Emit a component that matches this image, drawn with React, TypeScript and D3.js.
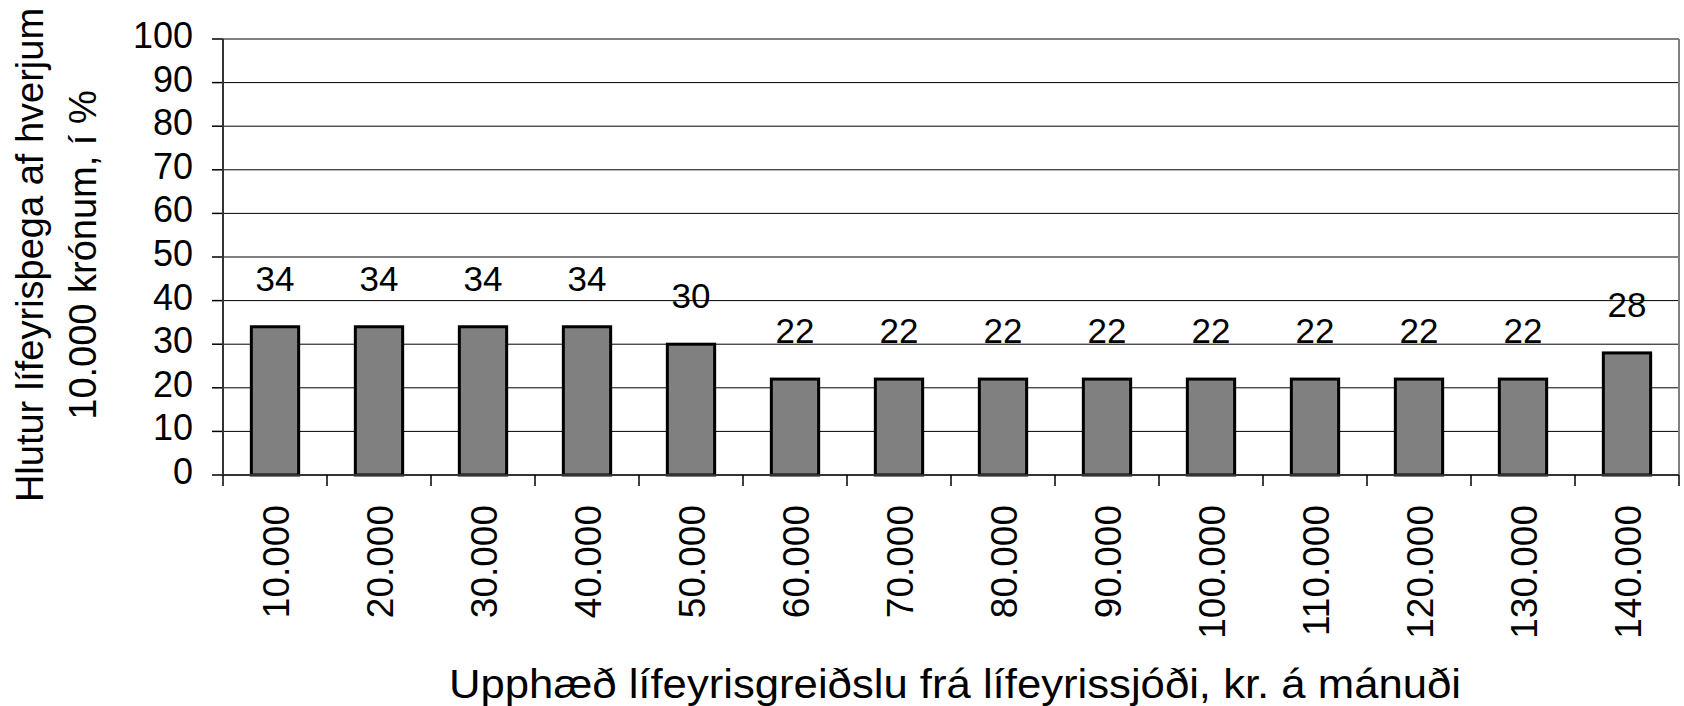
import React from "react";
import * as d3 from "d3";

const categories: string[] = [
  "10.000", "20.000", "30.000", "40.000", "50.000", "60.000", "70.000",
  "80.000", "90.000", "100.000", "110.000", "120.000", "130.000", "140.000",
];
const values: number[] = [34, 34, 34, 34, 30, 22, 22, 22, 22, 22, 22, 22, 22, 28];
const yTicks: number[] = [0, 10, 20, 30, 40, 50, 60, 70, 80, 90, 100];
const xTitle = "Upphæð lífeyrisgreiðslu frá lífeyrissjóði, kr. á mánuði";
const yTitleLines: string[] = ["Hlutur lífeyrisþega af hverjum", "10.000 krónum, í %"];

const W = 1684;
const H = 706;
const L = 223, R = 1679, T = 39, B = 475;
const FONT = "'Liberation Sans', Arial, Helvetica, sans-serif";

export default function App() {
  const x = d3.scaleBand<string>().domain(categories).range([L, R]).paddingInner(0.545).paddingOuter(0.2725);
  const y = d3.scaleLinear().domain([0, 100]).range([B, T]);
  const step = x.step();
  const bw = x.bandwidth();

  return (
    <svg width={W} height={H} style={{ position: "absolute", left: 0, top: 0, background: "#fff" }} fontFamily={FONT}>
      {/* gridlines */}
      {yTicks.filter((t) => t > 0 && t < 100).map((t) => (
        <line key={"g" + t} x1={L} x2={R} y1={y(t)} y2={y(t)} stroke="#000" strokeWidth={1} />
      ))}
      {/* top & right border */}
      <line x1={L} x2={R} y1={y(100)} y2={y(100)} stroke="#808080" strokeWidth={2} />
      <line x1={R} x2={R} y1={T} y2={B} stroke="#808080" strokeWidth={2} />
      {/* y axis ticks & labels */}
      {yTicks.map((t) => (
        <g key={"y" + t}>
          <line x1={212} x2={L} y1={y(t)} y2={y(t)} stroke="#000" strokeWidth={1.5} />
          <text x={193} y={y(t) + 9} textAnchor="end" fontSize={36} fill="#000">{t}</text>
        </g>
      ))}
      {/* bars */}
      {categories.map((c, i) => (
        <rect key={"b" + c} x={x(c)!} y={y(values[i])} width={bw} height={B - y(values[i])}
          fill="#808080" stroke="#000" strokeWidth={3} />
      ))}
      {/* bar labels */}
      {categories.map((c, i) => (
        <text key={"l" + c} x={x(c)! + bw / 2} y={y(values[i]) - 36} textAnchor="middle" fontSize={35} fill="#000">
          {values[i]}
        </text>
      ))}
      {/* axes lines */}
      <line x1={L} x2={L} y1={T} y2={B} stroke="#333" strokeWidth={2} />
      <line x1={L} x2={R} y1={B} y2={B} stroke="#333" strokeWidth={2} />
      {/* x ticks */}
      {d3.range(categories.length + 1).map((i) => (
        <line key={"xt" + i} x1={L + i * step} x2={L + i * step} y1={B} y2={486} stroke="#000" strokeWidth={1.5} />
      ))}
      {/* x tick labels */}
      {categories.map((c) => {
        const cx = x(c)! + bw / 2 + 14;
        return (
          <text key={"xl" + c} transform={`translate(${cx},505) rotate(-90)`} textAnchor="end" fontSize={37} fill="#000">
            {c}
          </text>
        );
      })}
      {/* x title */}
      <text x={955} y={698} textAnchor="middle" fontSize={40} fill="#000" textLength={1012} lengthAdjust="spacingAndGlyphs">
        {xTitle}
      </text>
      {/* y title */}
      {yTitleLines.map((s, i) => (
        <text key={"yt" + i} transform={`translate(${i === 0 ? 43 : 96},255) rotate(-90)`} textAnchor="middle" fontSize={38} fill="#000">
          {s}
        </text>
      ))}
    </svg>
  );
}
